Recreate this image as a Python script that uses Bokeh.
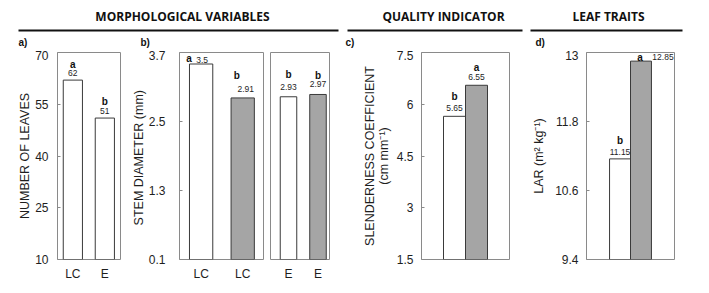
from bokeh.plotting import figure
from bokeh.layouts import column, row
from bokeh.models import Range1d, FixedTicker, NumeralTickFormatter, ColumnDataSource
from bokeh.core.properties import value
from bokeh.embed import file_html
from bokeh.resources import INLINE

# ---------------- data ----------------
a_labels = ["LC", "E"]
a_vals = [62, 51]
a_sig = ["a", "b"]

b1_labels = ["LC", "LC"]
b1_vals = [3.5, 2.91]
b1_sig = ["a", "b"]

b2_labels = ["E", "E"]
b2_vals = [2.93, 2.97]
b2_sig = ["b", "b"]

c_vals = [5.65, 6.55]
c_sig = ["b", "a"]

d_vals = [11.15, 12.85]
d_sig = ["b", "a"]

a_fill = ["#ffffff", "#ffffff"]
pair_fill = ["#ffffff", "#a5a5a5"]

a_ticks = [10, 25, 40, 55, 70]
b_ticks = [0.1, 1.3, 2.5, 3.7]
c_ticks = [1.5, 3, 4.5, 6, 7.5]
d_ticks = [9.4, 10.6, 11.8, 13]

headers = ["MORPHOLOGICAL VARIABLES", "QUALITY INDICATOR", "LEAF TRAITS"]
panel_letters = ["a)", "b)", "c)", "d)"]

FONT = "Liberation Sans"
FRAME = "#8a8a8a"
TXT = "#1e1e1e"

HH = 50   # header height
PH = 235  # panel figure height


def panel(width, bl, br, xr, yticks, vals, fills, sig, xlabels=None, ylabel=None,
          bar_w=0.55, num_off=None, sig_off=None, tick_standoff=8, label_standoff=2):
    xs = [1, 2]
    p = figure(width=width, height=PH, x_range=Range1d(*xr),
               y_range=Range1d(yticks[0], yticks[-1]),
               output_backend="svg", toolbar_location=None,
               min_border_left=bl, min_border_right=br,
               min_border_top=2, min_border_bottom=26)
    p.grid.visible = False
    p.outline_line_color = FRAME
    p.outline_line_width = 1
    p.background_fill_color = "white"
    p.border_fill_color = "white"

    src = ColumnDataSource(dict(
        x=xs, top=vals, fill=fills, sig=sig, num=[str(v) for v in vals],
        nx=[o[0] for o in num_off], ny=[o[1] for o in num_off],
        sx=[o[0] for o in sig_off], sy=[o[1] for o in sig_off],
    ))
    p.vbar(x="x", top="top", bottom=yticks[0], width=bar_w, source=src,
           fill_color="fill", line_color="#3a3a3a", line_width=1)
    p.text(x="x", y="top", text="num", x_offset="nx", y_offset="ny", source=src,
           text_align="center", text_baseline="middle",
           text_font=value(FONT), text_font_size="8.5px", text_color=TXT)
    p.text(x="x", y="top", text="sig", x_offset="sx", y_offset="sy", source=src,
           text_align="center", text_baseline="middle",
           text_font=value(FONT), text_font_size="10px", text_font_style="bold",
           text_color="#111111")

    # y axis
    ya = p.yaxis[0]
    ya.ticker = FixedTicker(ticks=yticks)
    ya.formatter = NumeralTickFormatter(format="0.[0]")
    ya.axis_line_color = None
    ya.major_tick_in = 3
    ya.major_tick_out = 0
    ya.major_tick_line_color = FRAME
    ya.minor_tick_line_color = None
    ya.major_label_standoff = tick_standoff
    ya.major_label_text_font = FONT
    ya.major_label_text_font_size = "12px"
    ya.major_label_text_color = TXT
    if ylabel is None:
        ya.visible = False
    else:
        ya.axis_label = ylabel
        ya.axis_label_text_font = FONT
        ya.axis_label_text_font_size = "12.5px"
        ya.axis_label_text_font_style = "normal"
        ya.axis_label_text_color = TXT
        ya.axis_label_text_line_height = 1.0
        ya.axis_label_standoff = label_standoff

    xa = p.xaxis[0]
    if xlabels is None:
        xa.visible = False
    else:
        xa.ticker = FixedTicker(ticks=xs)
        xa.major_label_overrides = {x: l for x, l in zip(xs, xlabels)}
        xa.axis_line_color = None
        xa.major_tick_line_color = None
        xa.minor_tick_line_color = None
        xa.major_label_standoff = 1
        xa.major_label_text_font = FONT
        xa.major_label_text_font_size = "12px"
        xa.major_label_text_color = TXT
    return p


fa = panel(128, 57, 8, (0.52, 2.49), a_ticks, a_vals, a_fill, a_sig,
           xlabels=a_labels, ylabel="NUMBER OF LEAVES", bar_w=0.6,
           num_off=[(0, -7), (0, -7)], sig_off=[(0, -16), (0, -17)],
           tick_standoff=9, label_standoff=0)
fb1 = panel(138, 51, 3, (0.48, 2.5), b_ticks, b1_vals, pair_fill, b1_sig,
            xlabels=b1_labels, ylabel="STEM DIAMETER  (mm)", bar_w=0.56,
            num_off=[(1, -4), (3, -9)], sig_off=[(-12, -6), (-6, -22)],
            tick_standoff=14, label_standoff=0)
fb2 = panel(74, 4, 11, (0.39, 2.39), b_ticks, b2_vals, pair_fill, b2_sig,
            xlabels=b2_labels, ylabel=None, bar_w=0.56,
            num_off=[(0, -10), (0, -10)], sig_off=[(0, -22), (0, -19)])
fc = panel(185, 81, 16, (-0.5, 3.5), c_ticks, c_vals, pair_fill, c_sig,
           xlabels=None, ylabel="SLENDERNESS COEFFICIENT\n(cm mm\u207b\u00b9)", bar_w=1.0,
           num_off=[(0, -8), (0, -8)], sig_off=[(0, -20), (0, -18)],
           tick_standoff=8, label_standoff=3)
fd = panel(167, 61, 18, (-0.6, 3.6), d_ticks, d_vals, pair_fill, d_sig,
           xlabels=None, ylabel="LAR (m\u00b2 kg\u207b\u00b9)", bar_w=1.0,
           num_off=[(0, -7), (22, -4)], sig_off=[(0, -18), (-1, -4)],
           tick_standoff=8, label_standoff=6)

# ---------------- header ----------------
W = 700
h = figure(width=W, height=HH, x_range=Range1d(0, W), y_range=Range1d(HH, 0),
           x_axis_type=None, y_axis_type=None, output_backend="svg",
           toolbar_location=None, min_border=0, outline_line_color=None)
h.grid.visible = False
h.text(x=[182, 443, 608], y=[16, 16, 16], text=headers, text_align="center",
       text_baseline="middle", text_font=value("Open Sans"), text_font_size="12px",
       text_font_style="bold", text_color="#111111")
h.segment(x0=[18, 347, 530], y0=[30, 30, 30], x1=[338, 522, 682], y1=[30, 30, 30],
          line_color="#111111", line_width=2)
h.text(x=[18, 140, 345, 535], y=[42, 42, 42, 42], text=panel_letters,
       text_align="left", text_baseline="middle", text_font=value(FONT),
       text_font_size="10px", text_font_style="bold", text_color="#111111")

layout = column(h, row(fa, fb1, fb2, fc, fd, spacing=0), spacing=0)

open("out.html", "w").write(file_html(layout, INLINE))
